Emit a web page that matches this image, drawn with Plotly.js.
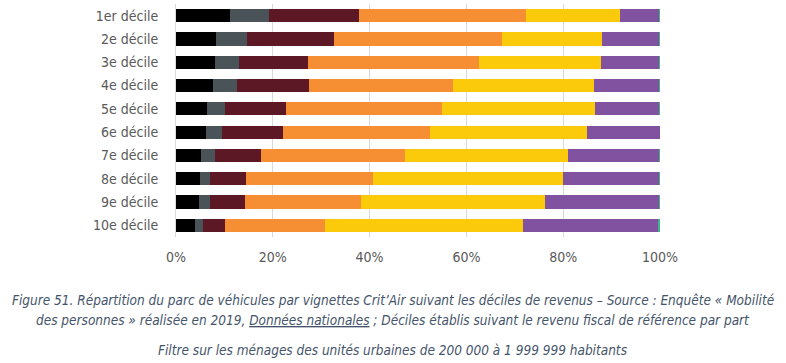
<!DOCTYPE html>
<html>
<head>
<meta charset="utf-8">
<script src="https://cdn.plot.ly/plotly-3.0.1.min.js"></script>
<style>html,body{margin:0;padding:0;background:#fff;}#chart{width:786px;height:363px;}</style>
</head>
<body>
<div id="chart"></div>
<script>
const categories = ["1er décile","2e décile","3e décile","4e décile","5e décile","6e décile","7e décile","8e décile","9e décile","10e décile"];
const critNames = ["Non classé","Crit'Air 5","Crit'Air 4","Crit'Air 3","Crit'Air 2","Crit'Air 1","Crit'Air 0"];
const critColors = ["#000000","#4a5357","#5c1824","#f68f33","#fbca0a","#8152a0","#3db48a"];
const nonClasse = [11.1, 8.3, 8.1, 7.7, 6.5, 6.1, 5.2, 5.0, 4.7, 3.9];
const crit5     = [ 8.2, 6.3, 5.0, 5.0, 3.6, 3.4, 2.8, 2.0, 2.3, 1.7];
const crit4     = [18.6,18.0,14.1,14.7,12.7,12.6, 9.6, 7.5, 7.3, 4.6];
const crit3     = [34.4,34.8,35.3,29.8,32.2,30.4,29.8,26.1,23.9,20.6];
const crit2     = [19.4,20.6,25.3,29.1,31.5,32.5,33.6,39.4,38.1,40.8];
const crit1     = [ 8.1,11.8,12.0,13.5,13.3,14.9,18.8,19.8,23.4,28.0];
const crit0     = [ 0.2, 0.2, 0.2, 0.2, 0.2, 0.1, 0.2, 0.2, 0.3, 0.4];
const series = [nonClasse, crit5, crit4, crit3, crit2, crit1, crit0];
const tickVals = [0,20,40,60,80,100];
const tickText = ["0%","20%","40%","60%","80%","100%"];

const traces = series.map((vals,i)=>({
  type:'bar', orientation:'h', name:critNames[i],
  y:categories, x:vals,
  marker:{color:critColors[i], line:{width:0}},
  hoverinfo:'x+y+name'
}));

const capFont = {family:"'Liberation Sans Narrow','DejaVu Sans Condensed',sans-serif", size:13.5, color:'#44546a'};
const layout = {
  width:786, height:363,
  margin:{l:176, r:126, t:4, b:126},
  barmode:'stack', bargap:0.43, showlegend:false,
  paper_bgcolor:'#fff', plot_bgcolor:'#fff',
  font:{family:"'Liberation Sans Narrow','DejaVu Sans Condensed',sans-serif", size:14, color:'#595959'},
  xaxis:{range:[0,100], tickvals:tickVals, ticktext:tickText, showgrid:true, gridcolor:'#d9d9d9', gridwidth:1,
         zeroline:false, showline:false, ticks:'', tickfont:{size:14,color:'#595959'}, fixedrange:true, ticklabelstandoff:10},
  yaxis:{autorange:'reversed', showline:true, linecolor:'#d9d9d9', linewidth:1, ticks:'', ticklen:0,
         tickfont:{size:14,color:'#595959'}, fixedrange:true, ticklabelstandoff:14},
  annotations:[
    {xref:'paper', yref:'paper', x:-176/484+393/484, y:0, yshift:-126+63, xanchor:'center', yanchor:'middle', showarrow:false,
     text:"<i>Figure 51. Répartition du parc de véhicules par vignettes Crit’Air suivant les déciles de revenus – Source : Enquête « Mobilité</i>", font:capFont},
    {xref:'paper', yref:'paper', x:-176/484+393/484, y:0, yshift:-126+43, xanchor:'center', yanchor:'middle', showarrow:false,
     text:"<i>des personnes » réalisée en 2019, <u>Données nationales</u> ; Déciles établis suivant le revenu fiscal de référence par part</i>", font:capFont},
    {xref:'paper', yref:'paper', x:-176/484+393/484, y:0, yshift:-126+13, xanchor:'center', yanchor:'middle', showarrow:false,
     text:"<i>Filtre sur les ménages des unités urbaines de 200 000 à 1 999 999 habitants</i>", font:capFont}
  ]
};
Plotly.newPlot('chart', traces, layout, {displayModeBar:false, staticPlot:true});
</script>
</body>
</html>
